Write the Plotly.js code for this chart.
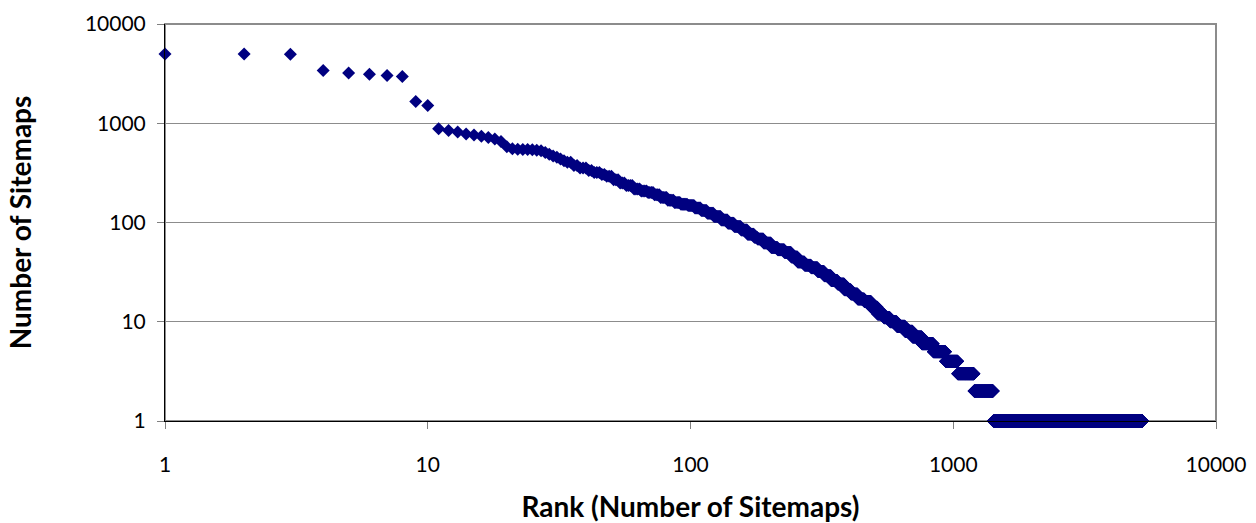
<!DOCTYPE html>
<html><head><meta charset="utf-8">
<script src="https://cdn.plot.ly/plotly-3.0.1.min.js"></script>
<style>html,body{margin:0;padding:0;background:#fff;}#chart{width:1256px;height:523px;}</style>
</head><body><div id="chart"></div>
<script>
// Each run: sites from runStartRank[i] up to the next run's start - 1 share runValue[i]
const runStartRank = [1,2,3,4,5,6,7,8,9,10,11,12,13,14,15,16,17,18,19,20,21,22,23,24,25,26,27,28,29,30,31,32,33,34,
  36,38,41,43,46,48,51,54,57,61,65,69,73,77,82,87,92,98,104,110,116,123,131,139,147,156,165,175,180,190,203,215,228,242,256,272,288,305,323,343,363,385,408,433,459,487,515,545,575,610,655,700,760,840,935,1040,1200,1420];
const runValue = [5000,5000,4950,3400,3200,3120,3020,2950,1660,1510,880,845,815,780,760,740,720,695,655,580,552,548,545,543,540,535,528,506,487,468,455,437,420,405,
  375,355,335,319,305,293,270,250,236,217,208,201,190,179,168,159,153,148,140,132,124,115,106,98,91,84,76,71,68,62,56,53,50,45,40,37,35,32,29,26,24,21,19,17,16,14,12,11,10,9,8,7,6,5,4,3,2,1];
const lastRank = 5250;
const tickValues = [1,10,100,1000,10000];
const tickLabels = ['1','10','100','1000','10000'];
const xTitle = 'Rank (Number of Sitemaps)';
const yTitle = 'Number of Sitemaps';

const ranks = [], counts = [];
for (let i = 0; i < runStartRank.length; i++) {
  const end = i + 1 < runStartRank.length ? runStartRank[i+1] - 1 : lastRank;
  for (let r = runStartRank[i]; r <= end; r++) { ranks.push(r); counts.push(runValue[i]); }
}

const fontFam = 'Lato, "Open Sans", sans-serif';
const trace = {
  type: 'scatter', mode: 'markers', x: ranks, y: counts,
  marker: {symbol: 'diamond', size: 10, color: '#000080', line: {width: 0}},
  cliponaxis: false, hoverinfo: 'x+y', showlegend: false
};
const axisCommon = {
  type: 'log', range: [0, 4], tickmode: 'array', tickvals: tickValues, ticktext: tickLabels,
  ticks: 'outside', ticklen: 7, tickcolor: '#808080', tickwidth: 1,
  showline: true, linecolor: '#000000', linewidth: 1, zeroline: false,
  tickfont: {family: fontFam, size: 21, color: '#000'}, automargin: false
};
const layout = {
  width: 1256, height: 523,
  margin: {l: 165, r: 40, t: 24, b: 102},
  paper_bgcolor: '#ffffff', plot_bgcolor: '#ffffff',
  xaxis: Object.assign({}, axisCommon, {
    showgrid: false, ticklabelstandoff: 18,
    title: {text: xTitle, font: {family: fontFam, size: 28, color: '#000', weight: 'bold'}, standoff: 30}
  }),
  yaxis: Object.assign({}, axisCommon, {
    showgrid: true, gridcolor: '#8c8c8c', gridwidth: 1, ticklabelstandoff: 7,
    title: {text: yTitle, font: {family: fontFam, size: 28, color: '#000', weight: 'bold'}, standoff: 45}
  }),
  shapes: [{type: 'rect', xref: 'paper', yref: 'paper', x0: 0, x1: 1, y0: 0, y1: 1,
    line: {color: '#8c8c8c', width: 2}, layer: 'below'}]
};
Plotly.newPlot('chart', [trace], layout, {displayModeBar: false, staticPlot: true});
</script></body></html>
